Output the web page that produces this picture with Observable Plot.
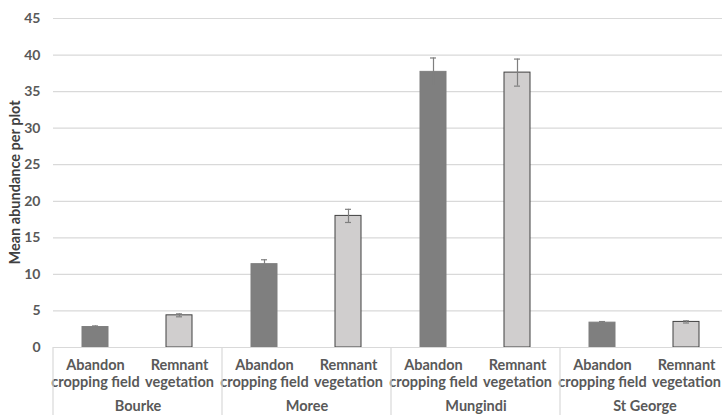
<!DOCTYPE html>
<html>
<head>
<meta charset="utf-8">
<script src="https://cdn.jsdelivr.net/npm/d3@7"></script>
<script src="https://cdn.jsdelivr.net/npm/@observablehq/plot@0.6"></script>
<style>
  html, body { margin: 0; padding: 0; background: #fff; overflow: hidden; }
  #chart { width: 722px; height: 415px; overflow: hidden; }
  svg { display: block; }
</style>
</head>
<body>
<div id="chart"></div>
<script>
const sites = ["Bourke", "Moree", "Mungindi", "St George"];
const types = ["Abandon cropping field", "Remnant vegetation"];
const typeLabels = ["Abandon\ncropping field", "Remnant\nvegetation"];
const abandonMeans = [2.8, 11.4, 37.7, 3.4];
const abandonErr = [0.15, 0.6, 1.9, 0.15];
const remnantMeans = [4.4, 18.0, 37.6, 3.5];
const remnantErr = [0.2, 0.9, 1.85, 0.15];
const yTicks = [0, 5, 10, 15, 20, 25, 30, 35, 40, 45];
const yLabel = "Mean abundance per plot";

const rows = [];
sites.forEach((s, i) => {
  rows.push({site: s, type: types[0], mean: abandonMeans[i], err: abandonErr[i]});
  rows.push({site: s, type: types[1], mean: remnantMeans[i], err: remnantErr[i]});
});

const font = "Lato, 'Open Sans', sans-serif";
const fullWidth = 729, marginLeft = 53;

const chart = Plot.plot({
  width: fullWidth,
  height: 415,
  marginLeft,
  marginRight: 0,
  marginTop: 18,
  marginBottom: 68,
  style: {fontFamily: font, background: "#fff"},
  fx: {domain: sites, padding: 0},
  x: {domain: types, paddingInner: 0.69, paddingOuter: 0.345},
  y: {domain: [0, 45]},
  color: {domain: types, range: ["#7f7f7f", "#d0cece"]},
  marks: [
    Plot.gridY(yTicks, {stroke: "#d9d9d9", strokeOpacity: 1, strokeWidth: 1.2}),
    Plot.axisY(yTicks, {
      tickSize: 0, tickPadding: 13, fontSize: 14, fontWeight: "bold", fill: "#595959",
      label: null
    }),
    Plot.axisX({
      tickSize: 0, tickPadding: 10, fontSize: 14.5, fontWeight: "bold", fill: "#595959",
      lineHeight: 1.2, tickFormat: (d) => typeLabels[types.indexOf(d)], label: null
    }),
    Plot.axisFx({
      anchor: "bottom", tickSize: 0, tickPadding: 53, fontSize: 14.5, fontWeight: "bold",
      fill: "#595959", label: null
    }),
    Plot.barY(rows, {
      fx: "site", x: "type", y: "mean", fill: "type",
      stroke: (d) => d.type === types[1] ? "#404040" : "#7f7f7f", strokeWidth: 1
    }),
    Plot.ruleX(rows, {fx: "site", x: "type", y1: (d) => d.mean - d.err, y2: (d) => d.mean + d.err, stroke: "#7f7f7f", strokeWidth: 1.2}),
    Plot.tickY(rows, {fx: "site", x: "type", y: (d) => d.mean + d.err, stroke: "#7f7f7f", insetLeft: 10, insetRight: 10, strokeWidth: 1.2}),
    Plot.tickY(rows, {fx: "site", x: "type", y: (d) => d.mean - d.err, stroke: "#7f7f7f", insetLeft: 10, insetRight: 10, strokeWidth: 1.2}),
    Plot.ruleY([0], {stroke: "#d9d9d9", strokeWidth: 1.2})
  ]
});

const svg = d3.select(chart);
const fxDesc = chart.scale("fx");
const fx = d3.scaleBand(fxDesc.domain, fxDesc.range).paddingInner(fxDesc.paddingInner ?? 0).paddingOuter(fxDesc.paddingOuter ?? 0);
const y = chart.scale("y");
const y0 = y.apply(0);
const edges = sites.map((s) => fx(s)).concat([fx(sites[sites.length - 1]) + fx.bandwidth()]);
svg.append("g").selectAll("line").data(edges).join("line")
  .attr("x1", (d) => d).attr("x2", (d) => d)
  .attr("y1", y0).attr("y2", 415)
  .attr("stroke", "#d9d9d9").attr("stroke-width", 1.2);

svg.append("text")
  .attr("transform", `translate(15,${(y.apply(0) + y.apply(45)) / 2}) rotate(-90)`)
  .attr("text-anchor", "middle")
  .attr("dy", "0.35em")
  .attr("font-family", font)
  .attr("font-size", 14.5)
  .attr("font-weight", "bold")
  .attr("fill", "#404040")
  .text(yLabel);

// crop the drawing to the 722px window (last group runs past the right edge)
svg.attr("width", 722).attr("viewBox", "0 0 722 415");

document.getElementById("chart").appendChild(chart);
</script>
</body>
</html>
